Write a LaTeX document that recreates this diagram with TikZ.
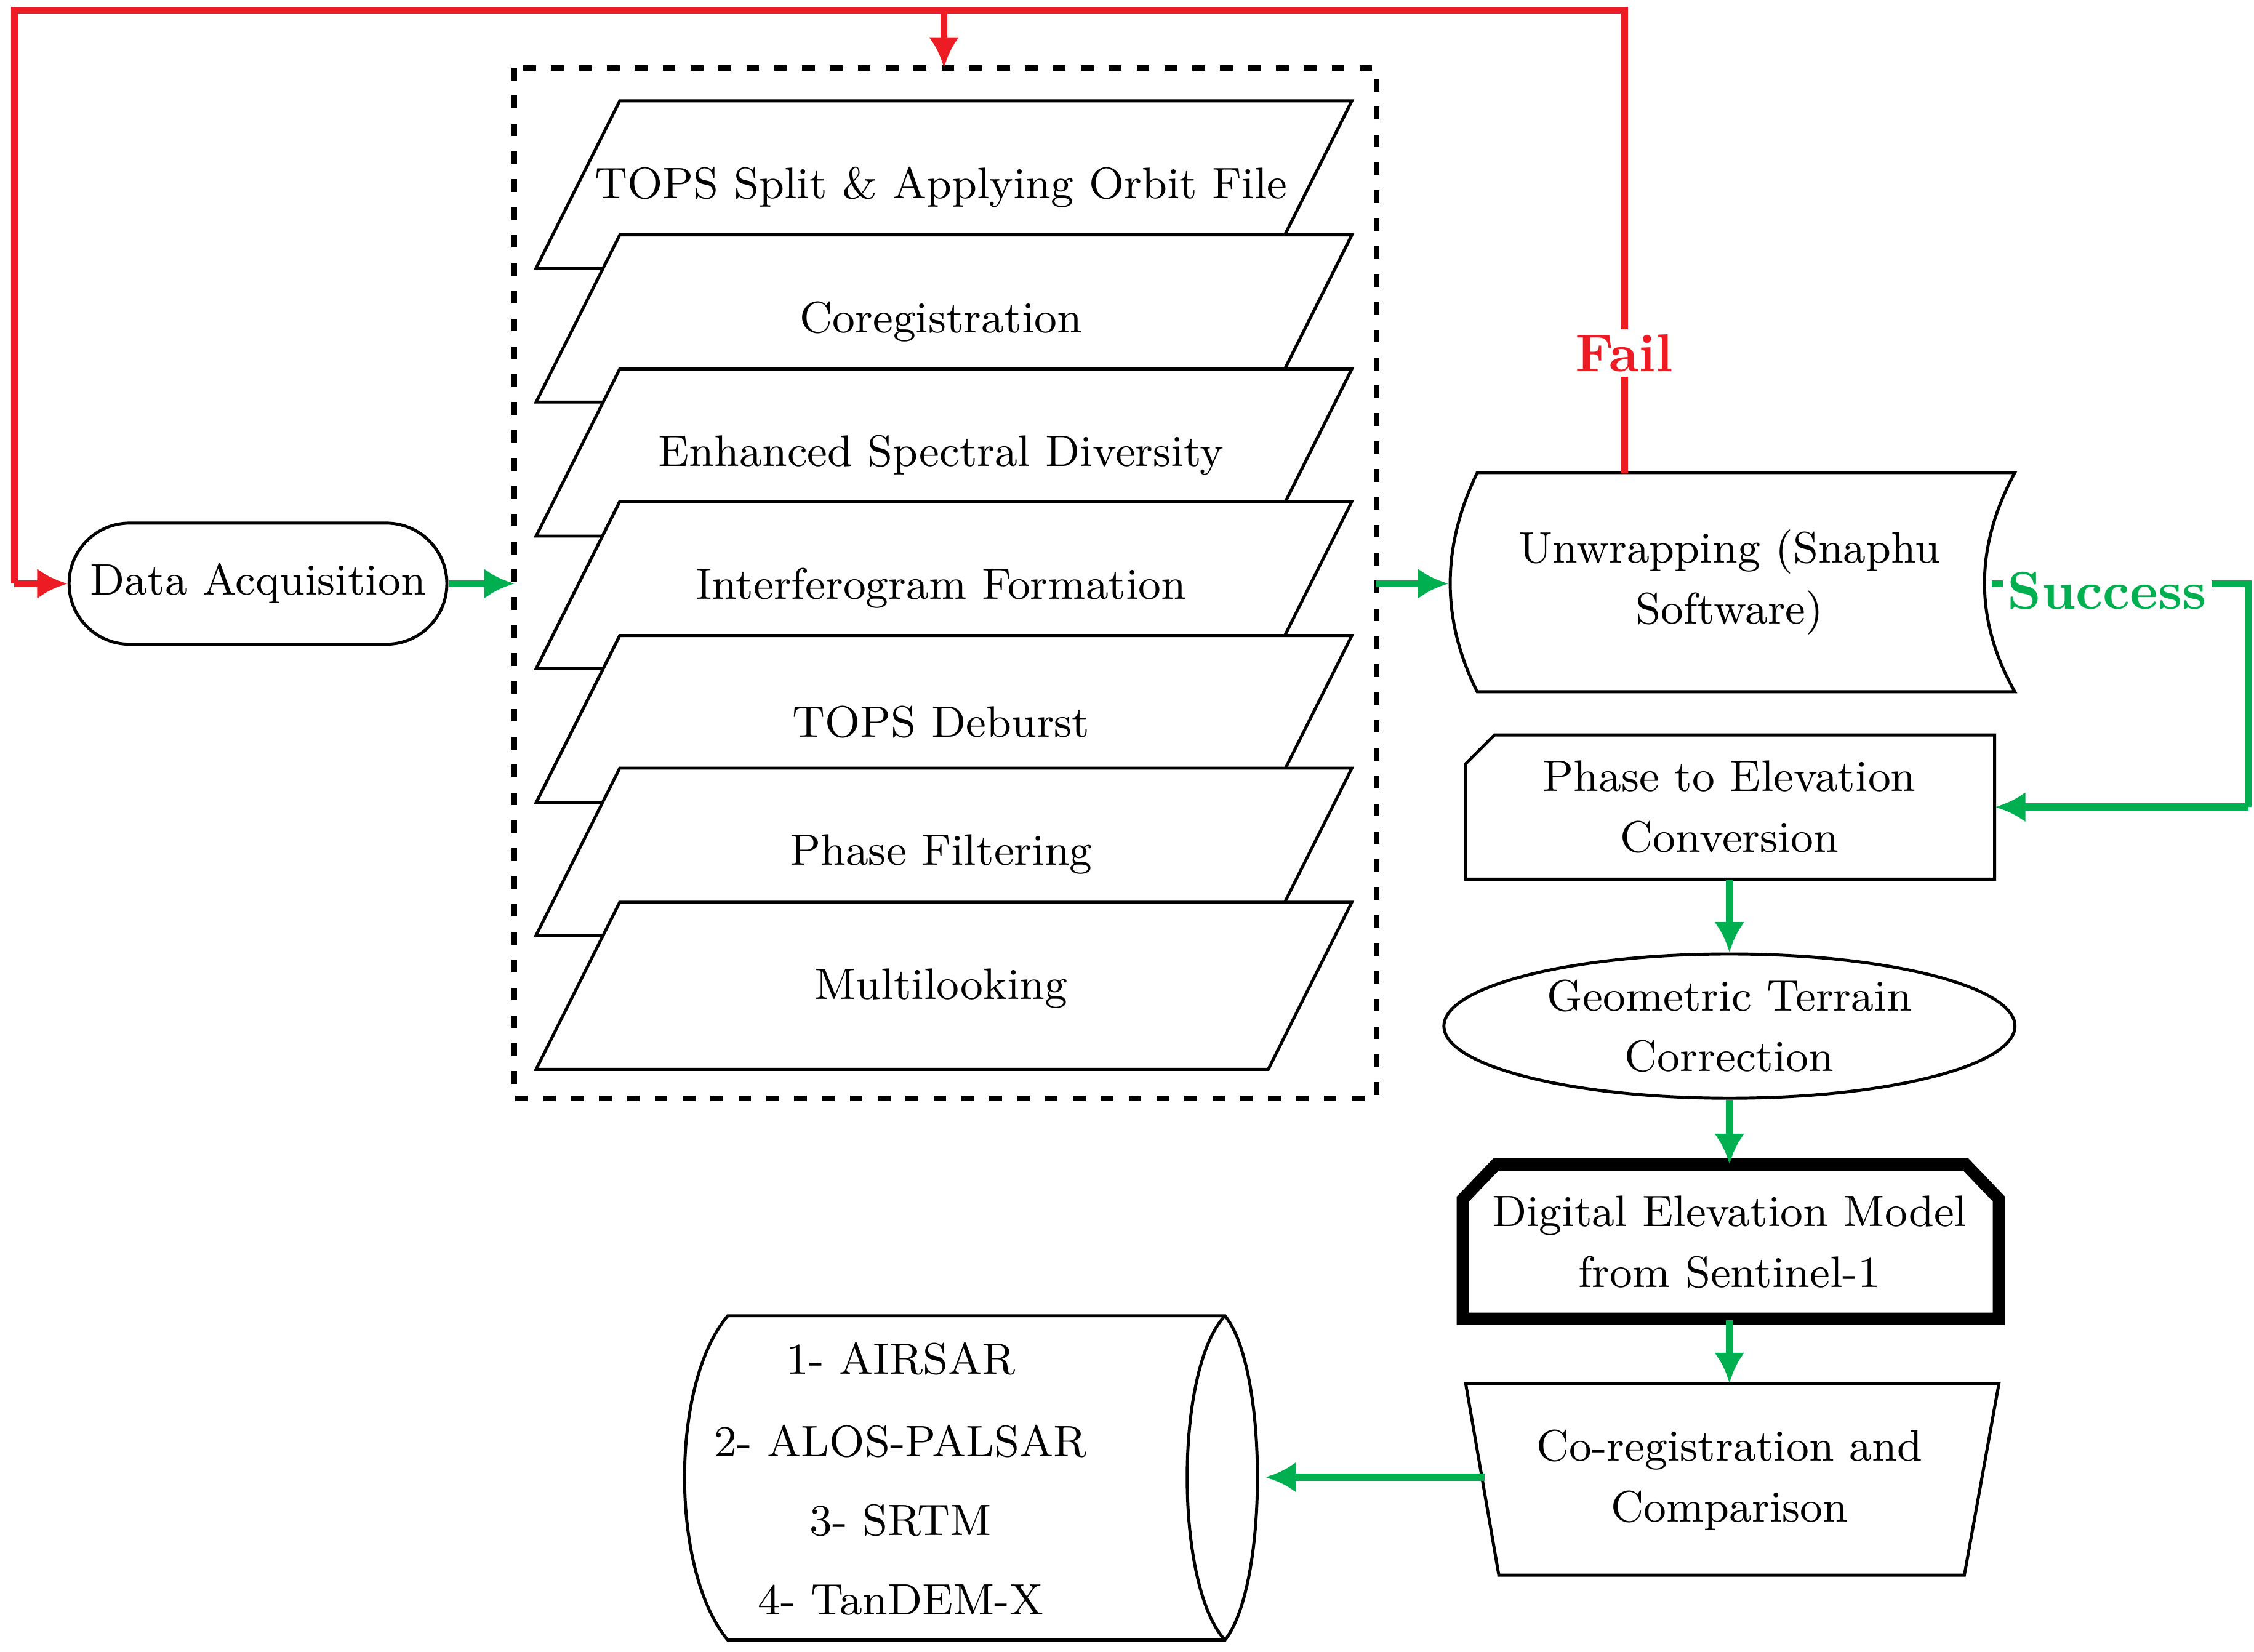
\documentclass[tikz,border=0pt]{standalone}
\usepackage{tikz}
\usetikzlibrary{shapes.geometric,shapes.misc,arrows.meta}
\definecolor{okgreen}{RGB}{0,176,80}
\definecolor{failred}{RGB}{237,28,36}
\begin{document}
\begin{tikzpicture}[x=0.01cm,y=-0.01cm,
  txt/.style={font=\fontsize{8.7}{12}\selectfont,align=center},
  gline/.style={draw=okgreen,line width=1.4pt},
  garrow/.style={gline,-{Latex[length=6pt,width=6pt]}},
  rline/.style={draw=failred,line width=1.4pt},
  rarrow/.style={rline,-{Latex[length=6pt,width=6pt]}},
  box/.style={draw,fill=white,line width=0.6pt}]
\useasboundingbox (0,0) rectangle (1564,1146);
% acquisition
\node[txt,draw,rounded rectangle,minimum width=2.62cm,minimum height=0.84cm,line width=0.6pt,inner sep=0pt] (acq) at (179,405) {Data Acquisition};
% processing chain
\draw[line width=1.1pt,dash pattern=on 2.5pt off 3pt] (357,47) rectangle (955,762);
\coordinate (boxtop) at (655,47);
\coordinate (boxl) at (357,405);
\coordinate (boxr) at (955,405);
\foreach \t/\lab in {70/TOPS Split \& Applying Orbit File,163/Coregistration,256/Enhanced Spectral Diversity,348/Interferogram Formation,441/TOPS Deburst,533/Phase Filtering,626/Multilooking}{
  \draw[box] (430,\t) -- (938,\t) -- (880,\t+116) -- (372,\t+116) -- cycle;
  \node[txt] at (653,\t+60) {\lab};
}
% unwrapping
\draw[box] (1025,328) -- (1398,328) .. controls (1370,380) and (1370,430) .. (1398,480)
  -- (1025,480) .. controls (1000,430) and (1000,380) .. (1025,328) -- cycle;
\node[txt,minimum width=3.8cm,minimum height=1.5cm,inner sep=0pt] (unw) at (1200,404) {Unwrapping (Snaphu\\Software)};
\coordinate (unwr) at (1382,405);
% phase to elevation
\draw[box] (1037,510) -- (1384,510) -- (1384,610) -- (1017,610) -- (1017,530) -- cycle;
\node[txt,minimum width=3.67cm,minimum height=1cm,inner sep=0pt] (pte) at (1200,560) {Phase to Elevation\\Conversion};
% terrain correction
\node[txt,draw,ellipse,minimum width=3.96cm,minimum height=1cm,line width=0.6pt,inner sep=0pt] (gtc) at (1200,712) {Geometric Terrain\\Correction};
% dem
\draw[line width=2.4pt] (1015,915) -- (1015,832) -- (1038,808) -- (1364,808) -- (1387,832) -- (1387,915) -- cycle;
\node[txt,minimum width=3.72cm,minimum height=1.07cm,inner sep=0pt] (dem) at (1200,862) {Digital Elevation Model\\from Sentinel-1};
% comparison
\draw[box] (1017,960) -- (1387,960) -- (1363,1093) -- (1040,1093) -- cycle;
\node[txt,minimum width=3.46cm,minimum height=1.33cm,inner sep=0pt] (cmp) at (1200,1027) {Co-registration and\\Comparison};
\coordinate (cmpl) at (1030,1025);
% reference dems
\draw[box] (505,913) -- (850,913) .. controls (880,950) and (880,1100) .. (850,1138)
  -- (505,1138) .. controls (465,1090) and (465,960) .. (505,913) -- cycle;
\draw[line width=0.6pt] (850,913) .. controls (815,950) and (815,1100) .. (850,1138);
\node[txt] at (625,943) {1- AIRSAR};
\node[txt] at (625,1000) {2- ALOS-PALSAR};
\node[txt] at (625,1055) {3- SRTM};
\node[txt] at (625,1110) {4- TanDEM-X};
\coordinate (refr) at (878,1025);
% connectors
\draw[garrow] (acq.east) -- (boxl);
\draw[garrow] (boxr) -- (1005,405);
\draw[gline] (unwr) -- (1560,405) -- (1560,560);
\draw[garrow] (1560,560) -- (pte.east);
\draw[garrow] (pte.south) -- (gtc.north);
\draw[garrow] (gtc.south) -- (dem.north);
\draw[garrow] (dem.south) -- (cmp.north);
\draw[garrow] (cmpl) -- (refr);
\draw[rline] (unw.north -| 1127,0) -- (1127,7) -- (10,7) -- (10,405);
\draw[rarrow] (10,405) -- (acq.west);
\draw[rarrow] (655,7) -- (boxtop);
\node[font=\fontsize{10.5}{12}\selectfont\bfseries,text=failred,fill=white,inner sep=1pt] at (1127,245) {Fail};
\node[font=\fontsize{10.5}{12}\selectfont\bfseries,text=okgreen,fill=white,inner sep=1pt] at (1462,410) {Success};
\end{tikzpicture}
\end{document}
